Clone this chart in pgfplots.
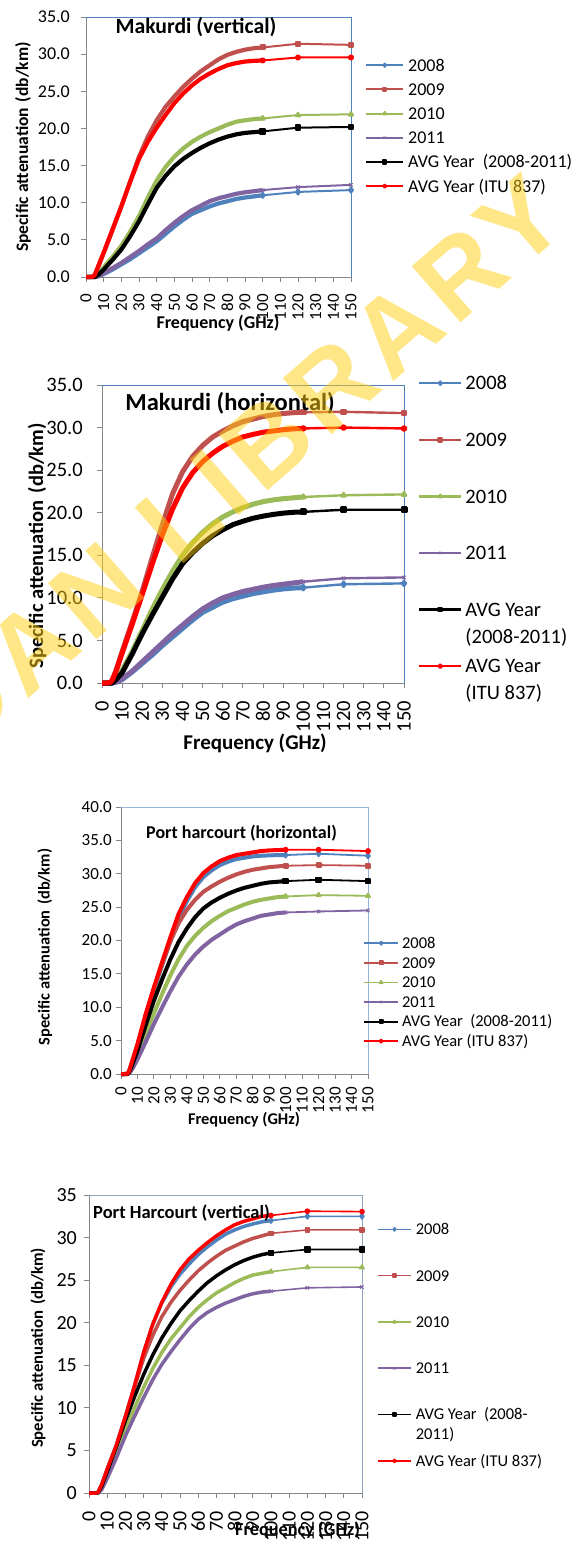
\documentclass[border=0pt]{standalone}
\usepackage{pgfplots}
\pgfplotsset{compat=1.18}
\usepackage{pgfplotstable}
\usepackage{fontspec}
\setmainfont{Carlito}
\newfontfamily\wmfont[LetterSpace=7]{Liberation Sans}

\definecolor{c08}{HTML}{4F81BD}
\definecolor{c09}{HTML}{C0504D}
\definecolor{c10}{HTML}{9BBB59}
\definecolor{c11}{HTML}{8064A2}
\definecolor{axisgray}{HTML}{868686}
\definecolor{frameblue}{HTML}{4F81BD}
\definecolor{framelight}{HTML}{95B3D7}
\definecolor{wmyellow}{HTML}{FFCE10}

% ---------------- Makurdi (vertical) ----------------
\pgfplotstableread{
f    a08   a09   a10   a11   avg   itu
0    0     0     0     0     0     0
2    0     0     0     0     0     0
4    0     0.05  0     0     0     0.05
5    0     0.3   0.05  0     0     0.3
7    0.1   1.4   0.4   0.1   0.3   1.5
10   0.4   3.2   1.3   0.5   1.0   3.3
15   1.0   6.3   2.7   1.2   2.3   6.4
20   1.7   9.5   4.2   1.9   3.7   9.5
25   2.4   12.9  6.1   2.7   5.5   12.8
30   3.2   16.2  8.2   3.5   7.5   15.9
35   4.0   18.9  10.7  4.4   9.8   18.2
40   4.8   21.1  13.0  5.2   12.0  20.1
45   5.8   22.9  14.8  6.3   13.6  21.8
50   6.8   24.3  16.2  7.3   14.9  23.4
55   7.7   25.6  17.3  8.2   15.9  24.7
60   8.5   26.7  18.2  9.0   16.7  25.8
65   9.0   27.7  18.9  9.6   17.4  26.7
70   9.5   28.5  19.5  10.2  18.0  27.4
75   9.9   29.3  20.0  10.6  18.5  28.0
80   10.2  29.9  20.5  10.9  18.9  28.5
85   10.5  30.3  20.9  11.2  19.2  28.8
90   10.7  30.6  21.1  11.4  19.4  29.0
95   10.85 30.8  21.25 11.55 19.5  29.1
100  11.0  30.9  21.35 11.7  19.6  29.15
}\mvDense
\pgfplotstableread{
f    a08   a09   a10   a11   avg   itu
100  11.0  30.9  21.35 11.7  19.6  29.15
120  11.45 31.4  21.8  12.1  20.1  29.55
150  11.7  31.25 21.9  12.4  20.2  29.55
}\mvTail

% ---------------- Makurdi (horizontal) ----------------
\pgfplotstableread{
f    a08   a09   a10   a11   avg   itu
0    0     0     0     0     0     0
2    0     0     0     0     0     0
4    0     0.05  0     0     0     0.05
5    0     0.3   0.05  0     0     0.3
7    0.1   1.5   0.5   0.1   0.4   1.4
10   0.4   3.7   1.5   0.5   1.2   3.5
15   1.3   7.2   3.7   1.4   3.4   6.9
20   2.3   10.8  6.2   2.5   5.8   10.4
25   3.3   14.8  8.7   3.6   8.0   14.0
30   4.4   18.6  11.0  4.7   10.1  17.4
35   5.4   22.2  13.1  5.8   12.2  20.4
40   6.4   24.8  15.0  6.8   14.0  22.9
45   7.4   26.6  16.5  7.8   15.3  24.7
50   8.3   27.9  17.7  8.7   16.4  26.0
55   8.9   28.9  18.7  9.4   17.3  27.0
60   9.5   29.6  19.5  10.0  18.0  27.8
65   9.9   30.2  20.1  10.4  18.6  28.4
70   10.2  30.7  20.6  10.75 19.0  28.9
75   10.5  31.0  21.0  11.0  19.35 29.2
80   10.7  31.3  21.3  11.25 19.6  29.45
85   10.9  31.5  21.5  11.45 19.8  29.6
90   11.05 31.65 21.65 11.6  19.95 29.75
95   11.15 31.75 21.75 11.75 20.05 29.85
100  11.2  31.8  21.85 11.9  20.1  29.9
}\mhDense
\pgfplotstableread{
f    a08   a09   a10   a11   avg   itu
100  11.2  31.8  21.85 11.9  20.1  29.9
120  11.6  31.85 22.05 12.3  20.35 30.0
150  11.7  31.7  22.15 12.4  20.35 29.9
}\mhTail

% ---------------- Port Harcourt (horizontal) ----------------
\pgfplotstableread{
f    a08   a09   a10   a11   avg   itu
0    0     0     0     0     0     0
2    0     0     0     0     0     0
4    0.05  0.05  0     0     0     0.05
5    0.5   0.4   0.2   0.1   0.3   0.5
7    2.0   1.9   1.1   0.8   1.5   2.1
10   4.2   4.3   2.8   2.2   3.5   4.5
15   8.6   8.8   5.9   4.8   7.3   9.0
20   12.6  12.8  9.1   7.5   11.0  13.0
25   16.3  16.5  12.0  10.0  14.2  16.8
30   19.9  19.9  14.8  12.4  17.2  20.5
35   23.4  22.6  17.2  14.6  19.8  24.0
40   25.9  24.6  19.2  16.4  21.8  26.5
45   28.0  26.1  20.7  17.9  23.5  28.6
50   29.5  27.3  21.9  19.1  24.8  30.1
55   30.5  28.1  22.9  20.1  25.7  31.1
60   31.3  28.8  23.7  20.9  26.4  31.9
65   31.8  29.4  24.4  21.7  27.0  32.4
70   32.2  29.9  24.9  22.4  27.5  32.8
75   32.4  30.3  25.4  22.9  27.9  33.0
80   32.6  30.6  25.8  23.3  28.2  33.2
85   32.7  30.8  26.1  23.7  28.5  33.4
90   32.75 31.0  26.3  23.9  28.7  33.5
95   32.8  31.1  26.5  24.1  28.8  33.55
100  32.8  31.2  26.6  24.2  28.9  33.6
}\phDense
\pgfplotstableread{
f    a08   a09   a10   a11   avg   itu
100  32.8  31.2  26.6  24.2  28.9  33.6
120  33.0  31.3  26.8  24.35 29.1  33.6
150  32.7  31.2  26.7  24.5  28.9  33.4
}\phTail

% ---------------- Port Harcourt (vertical) ----------------
\pgfplotstableread{
f    a08   a09   a10   a11   avg   itu
0    0     0     0     0     0     0
2    0     0     0     0     0     0
4    0     0     0     0     0     0
5    0.1   0.1   0     0     0.05  0.1
7    1.0   1.0   0.6   0.4   0.8   1.0
10   2.8   2.8   2.0   1.7   2.5   2.8
15   5.6   5.5   4.7   4.1   5.4   5.6
20   9.0   8.9   7.5   6.7   8.5   9.0
25   12.6  12.4  10.0  9.0   11.3  12.6
30   16.5  15.8  12.4  11.2  13.9  16.5
35   19.8  18.5  14.6  13.3  16.2  19.8
40   22.3  20.7  16.5  15.1  18.2  22.4
45   24.2  22.4  18.1  16.6  19.9  24.5
50   25.7  23.8  19.4  18.0  21.4  26.2
55   26.9  25.0  20.7  19.3  22.6  27.5
60   28.0  26.1  21.8  20.4  23.7  28.5
65   28.9  27.0  22.7  21.2  24.7  29.4
70   29.7  27.8  23.5  21.8  25.5  30.2
75   30.4  28.5  24.1  22.3  26.2  30.9
80   30.9  29.0  24.7  22.7  26.8  31.5
85   31.3  29.5  25.2  23.1  27.3  31.9
90   31.6  29.9  25.6  23.4  27.7  32.2
95   31.85 30.2  25.8  23.6  28.0  32.5
100  32.0  30.5  26.0  23.7  28.2  32.6
}\pvDense
\pgfplotstableread{
f    a08   a09   a10   a11   avg   itu
100  32.0  30.5  26.0  23.7  28.2  32.6
120  32.5  30.9  26.5  24.1  28.6  33.1
150  32.5  30.9  26.5  24.2  28.6  33.05
}\pvTail

\pgfplotsset{
  atten/.style={
    scale only axis, clip=false,
    xmin=0, xmax=150, ymin=0,
    xtick={0,10,...,150},
    axis x line*=bottom, axis y line*=left,
    axis line style={axisgray, line width=0.9pt},
    tick style={axisgray, line width=0.9pt},
    tick align=outside, major tick length=5pt,
    /pgf/number format/assume math mode=true,
    xticklabel style={rotate=90, anchor=east, inner sep=0pt},
    yticklabel style={anchor=east, inner sep=0pt},
    every axis title/.style={anchor=center},
    xlabel style={anchor=center},
    ylabel style={anchor=center},
    legend cell align=left,
    legend style={draw=none, fill=none, anchor=north west, inner sep=0pt},
    legend image post style={mark size=1.6pt},
    every axis plot/.append style={line join=round},
  },
  onedec/.style={yticklabel style={/pgf/number format/fixed,
    /pgf/number format/fixed zerofill, /pgf/number format/precision=1}},
  legimg/.style={legend image code/.code={%
    \draw[mark repeat=2,mark phase=2,##1] plot coordinates {(0pt,0pt) (0.5*#1,0pt) (#1,0pt)};}},
  m08/.style={mark=diamond*, mark size=2.6pt},
  m09/.style={mark=square*, mark size=2.0pt},
  m10/.style={mark=triangle*, mark size=2.4pt},
  m11/.style={mark=x, mark size=2.4pt, mark options={line width=1pt}},
  mavg/.style={mark=square*, mark size=2.3pt},
  mitu/.style={mark=*, mark size=2.0pt},
}

% draws the six series of one station: dense part (0-100 GHz) thick, tail (100-150 GHz) with markers
\newcommand\sixseries[4]{%
  \addplot[c08, line width=#3, forget plot] table[x=f,y=a08]{#1};
  \addplot[c08, line width=#4, m08] table[x=f,y=a08]{#2};
  \addplot[c09, line width=#3, forget plot] table[x=f,y=a09]{#1};
  \addplot[c09, line width=#4, m09] table[x=f,y=a09]{#2};
  \addplot[c10, line width=#3, forget plot] table[x=f,y=a10]{#1};
  \addplot[c10, line width=#4, m10] table[x=f,y=a10]{#2};
  \addplot[c11, line width=#3, forget plot] table[x=f,y=a11]{#1};
  \addplot[c11, line width=#4, m11] table[x=f,y=a11]{#2};
  \addplot[black, line width=#3, forget plot] table[x=f,y=avg]{#1};
  \addplot[black, line width=#4, mavg] table[x=f,y=avg]{#2};
  \addplot[red, line width=#3, forget plot] table[x=f,y=itu]{#1};
  \addplot[red, line width=#4, mitu] table[x=f,y=itu]{#2};
}

\begin{document}
\begin{tikzpicture}
\useasboundingbox (0,0) rectangle (582pt,-1547pt);

% ---- Makurdi (vertical)
\begin{axis}[atten, onedec,
  at={(86pt,-277pt)}, anchor=south west,
  width=265pt, height=260pt, ymax=35, ytick={0,5,...,35},
  xticklabel style={font=\fontsize{17}{19}\selectfont, xshift=-12pt},
  yticklabel style={font=\fontsize{18}{20}\selectfont, xshift=-11pt},
  title={Makurdi (vertical)},
  title style={at={(axis description cs:0.415,0.963)}, font=\bfseries\fontsize{21.7}{24}\selectfont},
  xlabel={Frequency (GHz)},
  xlabel style={at={(axis description cs:0.498,-0.177)}, font=\bfseries\fontsize{18}{20}\selectfont},
  ylabel={Specific attenuation\,\,(db/km)},
  ylabel style={at={(axis description cs:-0.238,0.5)}, font=\bfseries\fontsize{17.5}{20}\selectfont},
  legimg=37pt,
  legend style={at={(1.053,0.845)}, font=\fontsize{18}{22}\selectfont, row sep=8.9pt,
    nodes={inner sep=0pt, text height=13.5pt, text depth=1.8pt},
    /tikz/every odd column/.append style={column sep=4pt}},
]
\sixseries{\mvDense}{\mvTail}{4.2pt}{2pt}
\draw[frameblue, line width=0.8pt] (rel axis cs:0,1) -- (rel axis cs:1,1) -- (rel axis cs:1,0);
\addlegendentry{2008}
\addlegendentry{2009}
\addlegendentry{2010}
\addlegendentry{2011}
\addlegendentry{AVG Year\ \ (2008-2011)}
\addlegendentry{AVG Year (ITU 837)}
\end{axis}

% ---- Makurdi (horizontal)
\begin{axis}[atten, onedec,
  at={(102pt,-683pt)}, anchor=south west,
  width=302pt, height=298pt, ymax=35, ytick={0,5,...,35},
  xticklabel style={font=\fontsize{20.5}{22}\selectfont, xshift=-13pt},
  yticklabel style={font=\fontsize{20.5}{22}\selectfont, xshift=-14pt},
  title={Makurdi (horizontal)},
  title style={at={(axis description cs:0.424,0.94)}, font=\bfseries\fontsize{24.5}{27}\selectfont},
  xlabel={Frequency (GHz)},
  xlabel style={at={(axis description cs:0.507,-0.201)}, font=\bfseries\fontsize{21}{24}\selectfont},
  ylabel={Specific attenuation\,\,(db/km)},
  ylabel style={at={(axis description cs:-0.215,0.46)}, font=\bfseries\fontsize{20.5}{23}\selectfont},
  legimg=42pt,
  legend style={at={(1.046,1.036)}, font=\fontsize{20.5}{27}\selectfont, row sep=39.2pt,
    nodes={inner sep=0pt, text height=15.4pt, text depth=2pt},
    /tikz/every odd column/.append style={column sep=3pt}},
]
\sixseries{\mhDense}{\mhTail}{5pt}{2.4pt}
\draw[frameblue, line width=0.8pt] (rel axis cs:0,1) -- (rel axis cs:1,1) -- (rel axis cs:1,0);
\addlegendentry{2008}
\addlegendentry{2009}
\addlegendentry{2010}
\addlegendentry{2011}
\addlegendentry{\begin{tabular}[t]{@{}l@{}}AVG Year\\(2008-2011)\end{tabular}}
\addlegendentry{\begin{tabular}[t]{@{}l@{}}AVG Year\\(ITU 837)\end{tabular}}
\end{axis}

% ---- Port harcourt (horizontal)
\begin{axis}[atten, onedec,
  at={(121pt,-1074pt)}, anchor=south west,
  width=247pt, height=267pt, ymax=40, ytick={0,5,...,40},
  xticklabel style={font=\fontsize{17}{19}\selectfont, xshift=-8pt},
  yticklabel style={font=\fontsize{17}{19}\selectfont, xshift=-4pt},
  title={Port harcourt (horizontal)},
  title style={at={(axis description cs:0.488,0.903)}, font=\bfseries\fontsize{18}{21}\selectfont},
  xlabel={Frequency (GHz)},
  xlabel style={at={(axis description cs:0.498,-0.172)}, font=\bfseries\fontsize{16.4}{19}\selectfont},
  ylabel={Specific attenuation\,\,(db/km)},
  ylabel style={at={(axis description cs:-0.308,0.476)}, font=\bfseries\fontsize{16.4}{19}\selectfont},
  legimg=34pt,
  legend style={at={(0.98,0.517)}, font=\fontsize{16.5}{19}\selectfont, row sep=5.55pt,
    nodes={inner sep=0pt, text height=12.4pt, text depth=1.65pt},
    /tikz/every odd column/.append style={column sep=3pt}},
]
\sixseries{\phDense}{\phTail}{4pt}{1.8pt}
\draw[framelight, line width=0.9pt] (rel axis cs:0,1) -- (rel axis cs:1,1) -- (rel axis cs:1,0);
\addlegendentry{2008}
\addlegendentry{2009}
\addlegendentry{2010}
\addlegendentry{2011}
\addlegendentry{AVG Year\ \ (2008-2011)}
\addlegendentry{AVG Year (ITU 837)}
\end{axis}

% ---- Port Harcourt (vertical)
\begin{axis}[atten,
  at={(89pt,-1493pt)}, anchor=south west,
  width=273pt, height=298pt, ymax=35, ytick={0,5,...,35},
  xticklabel style={font=\fontsize{20}{22}\selectfont, xshift=-13pt},
  yticklabel style={font=\fontsize{20}{22}\selectfont, xshift=-7pt},
  title={Port Harcourt (vertical)},
  title style={at={(axis description cs:0.339,0.94)}, font=\bfseries\fontsize{18.5}{21}\selectfont},
  xlabel={Frequency (GHz)},
  xlabel style={at={(axis description cs:0.764,-0.124)}, font=\bfseries\fontsize{18.3}{21}\selectfont},
  ylabel={Specific attenuation\,\,(db/km)},
  ylabel style={at={(axis description cs:-0.187,0.487)}, font=\bfseries\fontsize{16.7}{19}\selectfont},
  legimg=33pt,
  legend style={at={(1.055,0.909)}, font=\fontsize{16.5}{20}\selectfont, row sep=32.25pt,
    nodes={inner sep=0pt, text height=12.4pt, text depth=1.65pt},
    /tikz/every odd column/.append style={column sep=4pt}},
]
\sixseries{\pvDense}{\pvTail}{3.5pt}{1.6pt}
\draw[framelight!70!gray, line width=0.9pt] (rel axis cs:0,1) -- (rel axis cs:1,1) -- (rel axis cs:1,0);
\addlegendentry{2008}
\addlegendentry{2009}
\addlegendentry{2010}
\addlegendentry{2011}
\addlegendentry{\begin{tabular}[t]{@{}l@{}}AVG Year\ \ (2008-\\2011)\end{tabular}}
\addlegendentry{AVG Year (ITU 837)}
\end{axis}

% library stamp across the upper pages
\node[rotate=41, anchor=base east, text=wmyellow, opacity=0.5, inner sep=0pt,
  font=\wmfont\bfseries\fontsize{108}{108}\selectfont] at (572pt,-226pt) {IBADAN LIBRARY};
\end{tikzpicture}
\end{document}
